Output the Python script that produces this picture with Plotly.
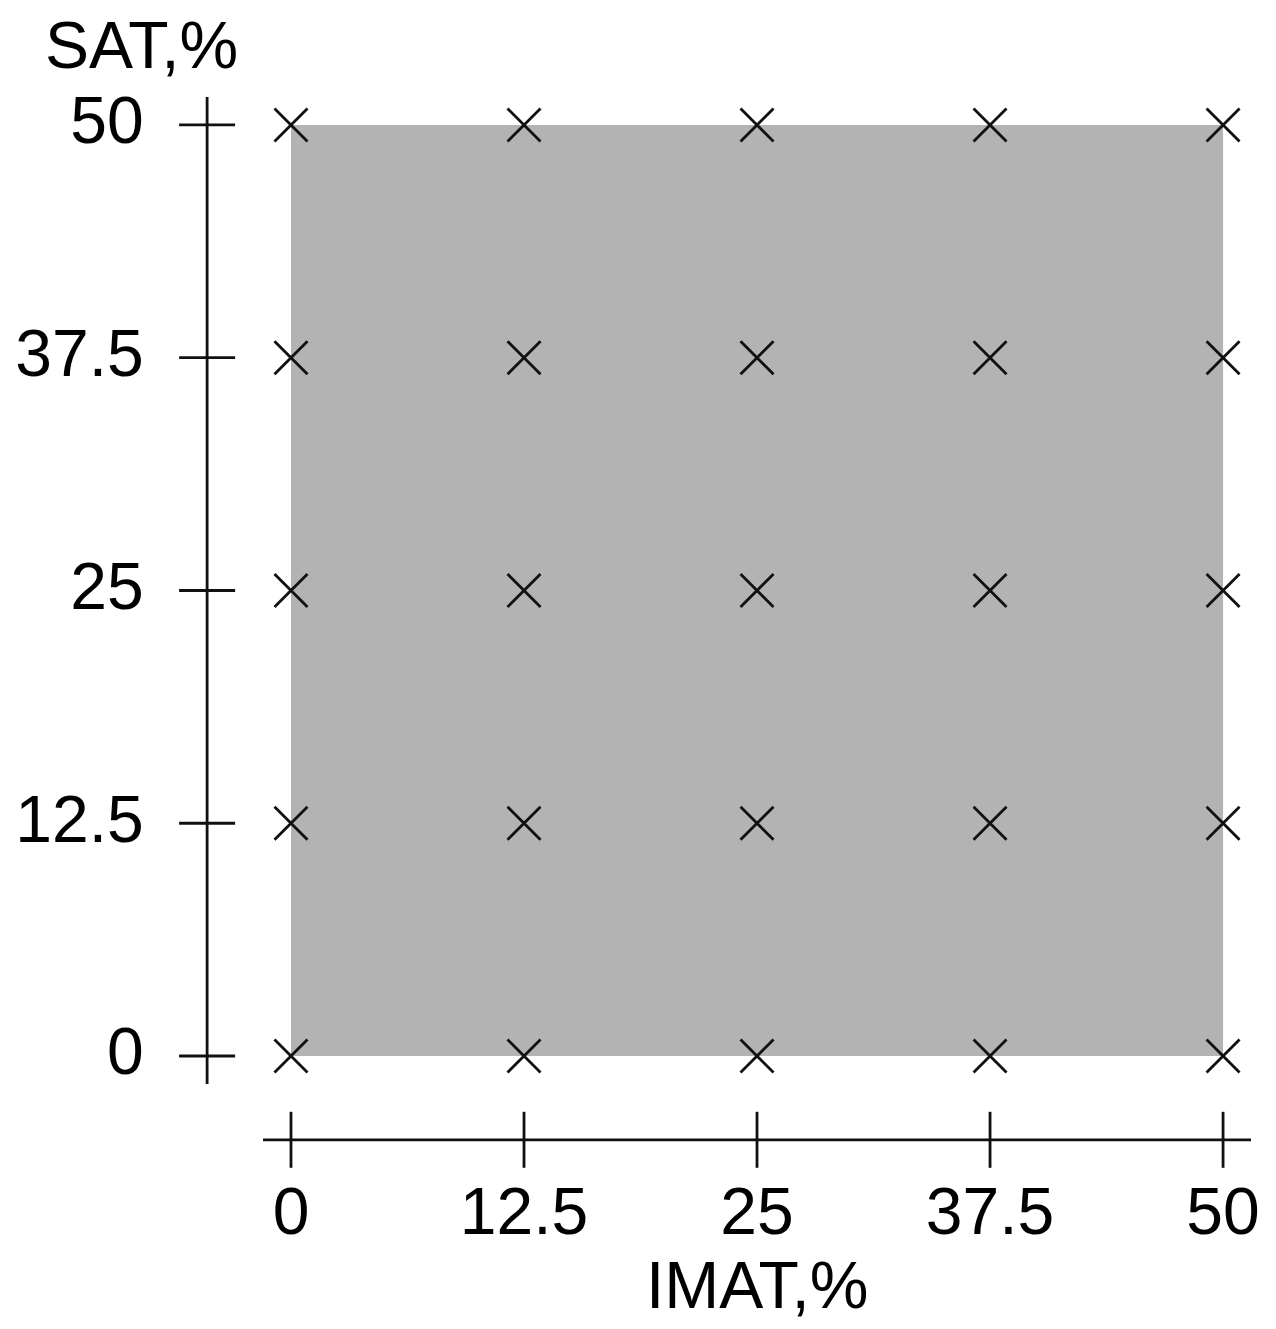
import plotly.graph_objects as go

# grid of sampled IMAT / SAT combinations
imat = [0, 12.5, 25, 37.5, 50]
sat = [0, 12.5, 25, 37.5, 50]
tick_vals = [0, 12.5, 25, 37.5, 50]
tick_text = ['0', '12.5', '25', '37.5', '50']

# shaded feasible region (IMAT range, SAT range)
region_imat = [0, 50]
region_sat = [0, 50]

INK = '#111111'
FONT = 'Liberation Sans, Arial, sans-serif'
axis_pos = -4.5      # where the detached axis lines sit
axis_ext = 1.5       # how far the axis lines run past the data

grid_x = [x for x in imat for _ in sat]
grid_y = [y for _ in imat for y in sat]

fig = go.Figure()

fig.add_shape(
    type='rect', xref='x', yref='y',
    x0=region_imat[0], x1=region_imat[1],
    y0=region_sat[0], y1=region_sat[1],
    fillcolor='#b3b3b3', line_width=0, layer='below',
)

# axis lines
fig.add_trace(go.Scatter(
    x=[tick_vals[0] - axis_ext, tick_vals[-1] + axis_ext], y=[axis_pos, axis_pos],
    mode='lines', line=dict(color=INK, width=2.8), hoverinfo='skip',
))
fig.add_trace(go.Scatter(
    x=[axis_pos, axis_pos], y=[tick_vals[0] - axis_ext, tick_vals[-1] + axis_ext],
    mode='lines', line=dict(color=INK, width=2.8), hoverinfo='skip',
))

# tick marks crossing the axis lines
fig.add_trace(go.Scatter(
    x=tick_vals, y=[axis_pos] * len(tick_vals), mode='markers',
    marker=dict(symbol='line-ns', size=40, line=dict(color=INK, width=2.8)),
    hoverinfo='skip',
))
fig.add_trace(go.Scatter(
    x=[axis_pos] * len(tick_vals), y=tick_vals, mode='markers',
    marker=dict(symbol='line-ew', size=40, line=dict(color=INK, width=2.8)),
    hoverinfo='skip',
))

# tick labels
fig.add_trace(go.Scatter(
    x=tick_vals, y=[axis_pos - 4.15] * len(tick_vals), mode='text',
    text=tick_text, textposition='middle center',
    textfont=dict(family=FONT, size=66, color='black'), hoverinfo='skip',
))
fig.add_trace(go.Scatter(
    x=[axis_pos - 3.4] * len(tick_vals), y=[v - 0.1 for v in tick_vals], mode='text',
    text=tick_text, textposition='middle left',
    textfont=dict(family=FONT, size=66, color='black'), hoverinfo='skip',
))

# grid points
fig.add_trace(go.Scatter(
    x=grid_x, y=grid_y, mode='markers',
    marker=dict(symbol='x-thin', size=33, line=dict(color=INK, width=2.8)),
    hovertemplate='IMAT %{x}%<br>SAT %{y}%<extra></extra>',
))

fig.add_annotation(x=25, y=-12.3, xref='x', yref='y', text='IMAT,%', showarrow=False,
                   font=dict(family=FONT, size=66, color='black'))
fig.add_annotation(x=-8, y=54.3, xref='x', yref='y', text='SAT,%', showarrow=False,
                   font=dict(family=FONT, size=66, color='black'))

fig.update_layout(
    width=1276, height=1329,
    margin=dict(l=0, r=0, t=0, b=0),
    paper_bgcolor='white', plot_bgcolor='white',
    showlegend=False,
    xaxis=dict(range=[-15.61, 52.84], visible=False, fixedrange=True),
    yaxis=dict(range=[-14.66, 56.71], visible=False, fixedrange=True),
)

fig.write_html('out.html', config={'displayModeBar': False},
               post_script="document.body.style.margin='0';")
